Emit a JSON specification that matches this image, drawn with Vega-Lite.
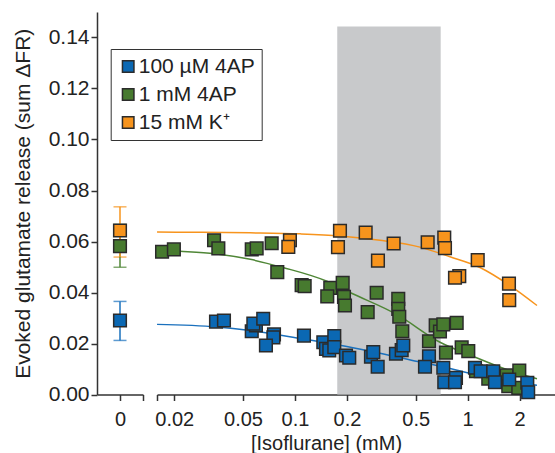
{
  "$schema": "https://vega.github.io/schema/vega-lite/v6.json",
  "padding": {"left": 12, "top": 12, "right": 0, "bottom": 0},
  "bounds": "flush",
  "spacing": 14,
  "config": {
    "view": {"stroke": null},
    "font": "Liberation Sans",
    "axis": {"domainColor": "#333", "domainWidth": 1.5, "tickColor": "#333", "tickWidth": 1.5, "tickSize": 6, "labelFont": "Liberation Sans", "labelFontSize": 20, "labelColor": "#222", "titleFont": "Liberation Sans", "titleFontSize": 20, "titleFontWeight": "normal", "titleColor": "#222", "grid": false}
  },
  "datasets": {
    "zero": [
      {"series": "1 mM 4AP", "x": 0, "y": 0.0582, "lo": 0.0499, "hi": 0.0667},
      {"series": "100 µM 4AP", "x": 0, "y": 0.029, "lo": 0.0212, "hi": 0.0365},
      {"series": "15 mM K⁺", "x": 0, "y": 0.0643, "lo": 0.0539, "hi": 0.0736}
    ],
    "band": [{"x1": 0.1757, "x2": 0.6977, "y1": 0, "y2": 0.1443}],
    "fit": [
      {"series": "15 mM K⁺", "x": 0.0159, "y": 0.0637},
      {"series": "15 mM K⁺", "x": 0.0282, "y": 0.0636},
      {"series": "15 mM K⁺", "x": 0.0551, "y": 0.0634},
      {"series": "15 mM K⁺", "x": 0.1073, "y": 0.063},
      {"series": "15 mM K⁺", "x": 0.1822, "y": 0.0622},
      {"series": "15 mM K⁺", "x": 0.3106, "y": 0.0605},
      {"series": "15 mM K⁺", "x": 0.5294, "y": 0.0578},
      {"series": "15 mM K⁺", "x": 0.79, "y": 0.054},
      {"series": "15 mM K⁺", "x": 1.178, "y": 0.0498},
      {"series": "15 mM K⁺", "x": 1.758, "y": 0.0427},
      {"series": "15 mM K⁺", "x": 2.519, "y": 0.0349},
      {"series": "1 mM 4AP", "x": 0.0159, "y": 0.0567},
      {"series": "1 mM 4AP", "x": 0.0216, "y": 0.0562},
      {"series": "1 mM 4AP", "x": 0.0344, "y": 0.0552},
      {"series": "1 mM 4AP", "x": 0.0551, "y": 0.053},
      {"series": "1 mM 4AP", "x": 0.0852, "y": 0.0498},
      {"series": "1 mM 4AP", "x": 0.1532, "y": 0.0444},
      {"series": "1 mM 4AP", "x": 0.2083, "y": 0.04},
      {"series": "1 mM 4AP", "x": 0.388, "y": 0.0314},
      {"series": "1 mM 4AP", "x": 0.6913, "y": 0.0205},
      {"series": "1 mM 4AP", "x": 1.073, "y": 0.015},
      {"series": "1 mM 4AP", "x": 1.682, "y": 0.0098},
      {"series": "1 mM 4AP", "x": 2.519, "y": 0.0062},
      {"series": "100 µM 4AP", "x": 0.0159, "y": 0.0275},
      {"series": "100 µM 4AP", "x": 0.0353, "y": 0.0265},
      {"series": "100 µM 4AP", "x": 0.0551, "y": 0.0251},
      {"series": "100 µM 4AP", "x": 0.1113, "y": 0.0218},
      {"series": "100 µM 4AP", "x": 0.1453, "y": 0.0205},
      {"series": "100 µM 4AP", "x": 0.1822, "y": 0.0193},
      {"series": "100 µM 4AP", "x": 0.2718, "y": 0.017},
      {"series": "100 µM 4AP", "x": 0.388, "y": 0.0148},
      {"series": "100 µM 4AP", "x": 0.5294, "y": 0.0127},
      {"series": "100 µM 4AP", "x": 0.6913, "y": 0.0111},
      {"series": "100 µM 4AP", "x": 1.031, "y": 0.0083},
      {"series": "100 µM 4AP", "x": 1.538, "y": 0.0058},
      {"series": "100 µM 4AP", "x": 2.519, "y": 0.0036}
    ],
    "pts": [
      {"series": "1 mM 4AP", "x": 0.017, "y": 0.056},
      {"series": "1 mM 4AP", "x": 0.0199, "y": 0.0569},
      {"series": "1 mM 4AP", "x": 0.034, "y": 0.0605},
      {"series": "1 mM 4AP", "x": 0.036, "y": 0.0573},
      {"series": "1 mM 4AP", "x": 0.0562, "y": 0.0569},
      {"series": "1 mM 4AP", "x": 0.06, "y": 0.0573},
      {"series": "1 mM 4AP", "x": 0.0733, "y": 0.0593},
      {"series": "1 mM 4AP", "x": 0.079, "y": 0.048},
      {"series": "1 mM 4AP", "x": 0.1093, "y": 0.0429},
      {"series": "1 mM 4AP", "x": 0.1138, "y": 0.0425},
      {"series": "1 mM 4AP", "x": 0.1601, "y": 0.0418},
      {"series": "1 mM 4AP", "x": 0.1538, "y": 0.0385},
      {"series": "1 mM 4AP", "x": 0.1889, "y": 0.0438},
      {"series": "1 mM 4AP", "x": 0.1922, "y": 0.0383},
      {"series": "1 mM 4AP", "x": 0.1948, "y": 0.0349},
      {"series": "1 mM 4AP", "x": 0.2972, "y": 0.0399},
      {"series": "1 mM 4AP", "x": 0.2636, "y": 0.0323},
      {"series": "1 mM 4AP", "x": 0.3963, "y": 0.0375},
      {"series": "1 mM 4AP", "x": 0.3963, "y": 0.0336},
      {"series": "1 mM 4AP", "x": 0.4017, "y": 0.0305},
      {"series": "1 mM 4AP", "x": 0.4182, "y": 0.0248},
      {"series": "1 mM 4AP", "x": 0.5969, "y": 0.0209},
      {"series": "1 mM 4AP", "x": 0.6527, "y": 0.0271},
      {"series": "1 mM 4AP", "x": 0.691, "y": 0.0247},
      {"series": "1 mM 4AP", "x": 0.7225, "y": 0.0275},
      {"series": "1 mM 4AP", "x": 0.8636, "y": 0.0281},
      {"series": "1 mM 4AP", "x": 0.7487, "y": 0.0164},
      {"series": "1 mM 4AP", "x": 0.9231, "y": 0.0185},
      {"series": "1 mM 4AP", "x": 1.008, "y": 0.017},
      {"series": "1 mM 4AP", "x": 1.117, "y": 0.0091},
      {"series": "1 mM 4AP", "x": 1.316, "y": 0.0062},
      {"series": "1 mM 4AP", "x": 1.682, "y": 0.0075},
      {"series": "1 mM 4AP", "x": 1.99, "y": 0.0094},
      {"series": "1 mM 4AP", "x": 1.718, "y": 0.0033},
      {"series": "1 mM 4AP", "x": 1.963, "y": 0.0026},
      {"series": "15 mM K⁺", "x": 0.0935, "y": 0.0605},
      {"series": "15 mM K⁺", "x": 0.0915, "y": 0.0579},
      {"series": "15 mM K⁺", "x": 0.1822, "y": 0.0642},
      {"series": "15 mM K⁺", "x": 0.1774, "y": 0.0578},
      {"series": "15 mM K⁺", "x": 0.2566, "y": 0.0635},
      {"series": "15 mM K⁺", "x": 0.3727, "y": 0.0592},
      {"series": "15 mM K⁺", "x": 0.3023, "y": 0.0525},
      {"series": "15 mM K⁺", "x": 0.5866, "y": 0.0597},
      {"series": "15 mM K⁺", "x": 0.7318, "y": 0.0615},
      {"series": "15 mM K⁺", "x": 0.7388, "y": 0.0574},
      {"series": "15 mM K⁺", "x": 1.143, "y": 0.0527},
      {"series": "15 mM K⁺", "x": 0.894, "y": 0.0464},
      {"series": "15 mM K⁺", "x": 0.8443, "y": 0.0458},
      {"series": "15 mM K⁺", "x": 1.734, "y": 0.0435},
      {"series": "15 mM K⁺", "x": 1.74, "y": 0.037},
      {"series": "100 µM 4AP", "x": 0.0349, "y": 0.0286},
      {"series": "100 µM 4AP", "x": 0.0388, "y": 0.029},
      {"series": "100 µM 4AP", "x": 0.0562, "y": 0.0248},
      {"series": "100 µM 4AP", "x": 0.0594, "y": 0.0271},
      {"series": "100 µM 4AP", "x": 0.0574, "y": 0.0278},
      {"series": "100 µM 4AP", "x": 0.0655, "y": 0.0297},
      {"series": "100 µM 4AP", "x": 0.0756, "y": 0.0236},
      {"series": "100 µM 4AP", "x": 0.075, "y": 0.0224},
      {"series": "100 µM 4AP", "x": 0.0679, "y": 0.0192},
      {"series": "100 µM 4AP", "x": 0.1127, "y": 0.0231},
      {"series": "100 µM 4AP", "x": 0.1459, "y": 0.0205},
      {"series": "100 µM 4AP", "x": 0.1512, "y": 0.0179},
      {"series": "100 µM 4AP", "x": 0.158, "y": 0.0173},
      {"series": "100 µM 4AP", "x": 0.1689, "y": 0.0229},
      {"series": "100 µM 4AP", "x": 0.1689, "y": 0.0186},
      {"series": "100 µM 4AP", "x": 0.1974, "y": 0.0153},
      {"series": "100 µM 4AP", "x": 0.2062, "y": 0.0144},
      {"series": "100 µM 4AP", "x": 0.2754, "y": 0.0148},
      {"series": "100 µM 4AP", "x": 0.2841, "y": 0.0166},
      {"series": "100 µM 4AP", "x": 0.3012, "y": 0.0109},
      {"series": "100 µM 4AP", "x": 0.3844, "y": 0.016},
      {"series": "100 µM 4AP", "x": 0.4148, "y": 0.0174},
      {"series": "100 µM 4AP", "x": 0.4238, "y": 0.0192},
      {"series": "100 µM 4AP", "x": 0.5969, "y": 0.015},
      {"series": "100 µM 4AP", "x": 0.5659, "y": 0.0109},
      {"series": "100 µM 4AP", "x": 0.7225, "y": 0.0105},
      {"series": "100 µM 4AP", "x": 0.7318, "y": 0.0048},
      {"series": "100 µM 4AP", "x": 0.8555, "y": 0.0065},
      {"series": "100 µM 4AP", "x": 0.8443, "y": 0.0048},
      {"series": "100 µM 4AP", "x": 1.102, "y": 0.0105},
      {"series": "100 µM 4AP", "x": 1.189, "y": 0.0091},
      {"series": "100 µM 4AP", "x": 1.406, "y": 0.0091},
      {"series": "100 µM 4AP", "x": 1.439, "y": 0.0048},
      {"series": "100 µM 4AP", "x": 1.74, "y": 0.0059},
      {"series": "100 µM 4AP", "x": 2.214, "y": 0.0046},
      {"series": "100 µM 4AP", "x": 2.24, "y": 0.0009}
    ]
  },
  "resolve": {
    "scale": {"x": "independent", "y": "shared", "fill": "shared", "color": "independent"},
    "legend": {"fill": "shared", "color": "independent"}
  },
  "hconcat": [
    {
      "width": 46,
      "height": 382.5,
      "layer": [
        {
          "data": {"name": "zero"},
          "mark": {"type": "errorbar", "ticks": {"size": 13}, "thickness": 1.5},
          "encoding": {
            "x": {"field": "x", "type": "quantitative", "scale": {"domain": [-1, 1], "nice": false, "zero": false},
              "axis": {"values": [0, 1], "labelExpr": "datum.value == 0 ? '0' : ''", "title": null, "labelPadding": 9, "labelOverlap": false}},
            "y": {"field": "lo", "type": "quantitative", "scale": {"domain": [0, 0.15], "nice": false},
              "axis": {"values": [0, 0.02, 0.04, 0.06, 0.08, 0.1, 0.12, 0.14], "format": ".2f", "title": "Evoked glutamate release (sum ΔFR)", "labelFontSize": 21, "titleFontSize": 21, "labelPadding": 2, "titlePadding": 15}},
            "y2": {"field": "hi"},
            "color": {"field": "series", "type": "nominal", "scale": {"domain": ["100 µM 4AP", "1 mM 4AP", "15 mM K⁺"], "range": ["#1a70bd", "#4f8636", "#f7941d"]}, "legend": null}
          }
        },
        {
          "data": {"name": "zero"},
          "mark": {"type": "point", "shape": "square", "filled": true, "size": 160, "stroke": "#2b2b2b", "strokeWidth": 1.5, "opacity": 1},
          "encoding": {
            "x": {"field": "x", "type": "quantitative"},
            "y": {"field": "y", "type": "quantitative"},
            "fill": {"field": "series", "type": "nominal", "scale": {"domain": ["100 µM 4AP", "1 mM 4AP", "15 mM K⁺"], "range": ["#0b68b3", "#477a2f", "#f7941d"]},
              "legend": {"orient": "none", "legendX": 13.7, "legendY": 37, "title": null, "strokeColor": "#333", "fillColor": "white", "padding": 7, "symbolType": "square", "symbolSize": 132, "symbolStrokeColor": "#222", "symbolStrokeWidth": 1.5, "symbolOpacity": 1, "labelFont": "Liberation Sans", "labelFontSize": 21, "labelColor": "#222", "rowPadding": 6, "labelOffset": 0}}
          }
        }
      ]
    },
    {
      "width": 398,
      "height": 382.5,
      "layer": [
        {
          "data": {"name": "band"},
          "mark": {"type": "rect", "color": "#c8c9cb"},
          "encoding": {
            "x": {"field": "x1", "type": "quantitative", "scale": {"type": "log", "domain": [0.01589, 3.203], "nice": false},
              "axis": {"values": [0.01589, 0.02, 0.05, 0.1, 0.2, 0.5, 1, 2], "labelExpr": "datum.value < 0.018 ? '' : format(datum.value, '~g')", "title": "[Isoflurane] (mM)", "titleX": 169, "titlePadding": 4, "labelPadding": 9, "labelOverlap": false}},
            "x2": {"field": "x2"},
            "y": {"field": "y1", "type": "quantitative", "axis": null},
            "y2": {"field": "y2"}
          }
        },
        {
          "data": {"name": "fit"},
          "mark": {"type": "line", "strokeWidth": 1.5, "interpolate": "monotone"},
          "encoding": {
            "x": {"field": "x", "type": "quantitative"},
            "y": {"field": "y", "type": "quantitative"},
            "color": {"field": "series", "type": "nominal", "scale": {"domain": ["100 µM 4AP", "1 mM 4AP", "15 mM K⁺"], "range": ["#1a70bd", "#4f8636", "#f7941d"]}, "legend": null}
          }
        },
        {
          "data": {"name": "pts"},
          "mark": {"type": "point", "shape": "square", "filled": true, "size": 160, "stroke": "#2b2b2b", "strokeWidth": 1.5, "opacity": 1},
          "encoding": {
            "x": {"field": "x", "type": "quantitative"},
            "y": {"field": "y", "type": "quantitative"},
            "fill": {"field": "series", "type": "nominal"}
          }
        }
      ]
    }
  ]
}
